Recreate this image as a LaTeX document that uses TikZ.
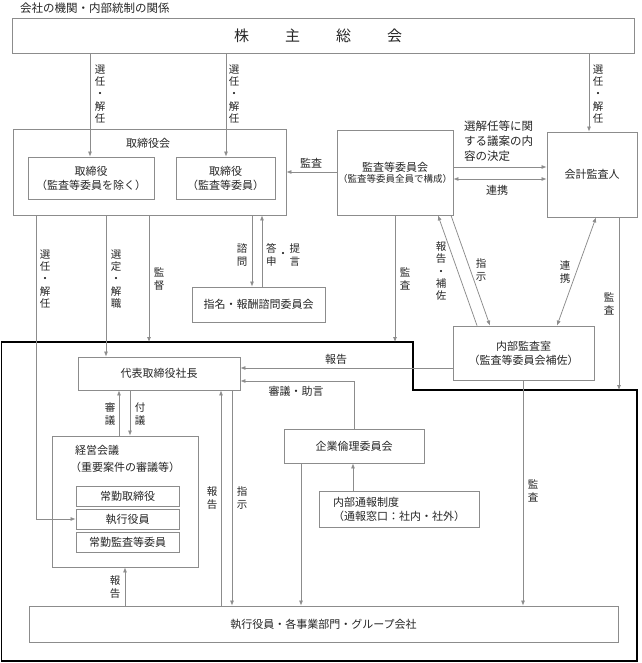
\documentclass[tikz,border=0pt]{standalone}
\usepackage{fontspec}
\setmainfont{Noto Sans CJK JP}
\usetikzlibrary{arrows.meta}
\definecolor{lngray}{gray}{0.55}
\definecolor{txt}{gray}{0.15}
\begin{document}
\begin{tikzpicture}[x=1pt,y=-1pt,
  box/.style={draw=lngray, line width=0.8pt, fill=white, inner sep=0pt, text=txt,
              font=\fontsize{11}{14}\selectfont, align=center},
  ln/.style={draw=lngray, line width=0.75pt},
  arr/.style={ln, -{Latex[length=5pt,width=4pt]}},
  darr/.style={ln, {Latex[length=5pt,width=4pt]}-{Latex[length=5pt,width=4pt]}},
  vlab/.style={font=\fontsize{10.5}{12.2}\selectfont, align=center, inner sep=0pt, text=txt},
  hlab/.style={font=\fontsize{11}{14}\selectfont, inner sep=0pt, text=txt},
  frame/.style={draw=black, line width=1.2pt}]
\useasboundingbox (0,0) rectangle (641,663);
\fill[white] (0,0) rectangle (641,663);

% title
\node[hlab, anchor=west, font=\fontsize{11.5}{14}\selectfont] (title) at (20,8) {会社の機関・内部統制の関係};

% thick frame
\draw[frame] (1.5,342) -- (413,342) -- (413,390) -- (637,390) -- (637,661) -- (1.5,661) -- cycle;

% boxes
\node[box, minimum width=622, minimum height=35, font=\fontsize{15}{18}\selectfont] (soukai) at (323,35.5)
  {株\hspace{36pt}主\hspace{36pt}総\hspace{36pt}会\hspace{10pt}};
\node[box, minimum width=273, minimum height=86] (torikai) at (149.5,172) {};
\node[hlab] (torikailab) at (148,143) {取締役会};
\node[box, minimum width=126, minimum height=42] (tori1) at (91,178) {取締役\\（監査等委員を除く）};
\node[box, minimum width=99, minimum height=42] (tori2) at (225.5,178) {取締役\\（監査等委員）};
\node[box, minimum width=116, minimum height=85] (kansaiin) at (395,172.5)
  {監査等委員会\\[-3pt]{\fontsize{9.5}{11}\selectfont （監査等委員全員で構成）}};
\node[box, minimum width=90, minimum height=85] (kaikei) at (592,174.5) {会計監査人};
\node[box, minimum width=133, minimum height=35] (shimei) at (258.5,304.5) {指名・報酬諮問委員会};
\node[box, minimum width=141, minimum height=54] (naibu) at (523.5,353) {内部監査室\\（監査等委員会補佐）};
\node[box, minimum width=162, minimum height=33] (daihyo) at (159,373.5) {代表取締役社長};
\node[box, minimum width=146, minimum height=131] (keiei) at (125,501.5) {};
\node[hlab, anchor=north west, align=left, font=\fontsize{11}{17}\selectfont] (keieilab) at (75,445)
  {経営会議\\\hspace*{-5pt}（重要案件の審議等）};
\node[box, minimum width=103, minimum height=20] (k1) at (127.5,496) {常勤取締役};
\node[box, minimum width=103, minimum height=20] (k2) at (127.5,519) {執行役員};
\node[box, minimum width=103, minimum height=20] (k3) at (127.5,542) {常勤監査等委員};
\node[box, minimum width=140, minimum height=34] (kigyo) at (354,446) {企業倫理委員会};
\node[box, minimum width=160, minimum height=36, align=left] (tsuho) at (399,509)
  {内部通報制度\hspace{5em}\\（通報窓口：社内・社外）};
\node[box, minimum width=589, minimum height=36] (bottom) at (323.5,624) {執行役員・各事業部門・グループ会社};

% frame anchor points
\coordinate (fr1) at (149,342);
\coordinate (fr2) at (395,342);
\coordinate (fr3) at (619,390);

% connectors from 株主総会
\draw[arr] (soukai.south -| 90,0) -- (tori1.north -| 90,0);
\node[vlab] (l1) at (100,94) {選\\任\\・\\解\\任};
\draw[arr] (soukai.south -| 226,0) -- (tori2.north -| 226,0);
\node[vlab] (l2) at (234,94) {選\\任\\・\\解\\任};
\draw[arr] (soukai.south -| 589,0) -- (kaikei.north -| 589,0);
\node[vlab] (l3) at (598,94) {選\\任\\・\\解\\任};

% 監査等委員会 connections
\draw[arr] (kansaiin.west |- 0,172) -- (torikai.east |- 0,172);
\node[hlab] (l4) at (311,163) {監査};
\draw[arr] (kansaiin.east |- 0,167) -- (kaikei.west |- 0,167);
\draw[darr] (kansaiin.east |- 0,179) -- (kaikei.west |- 0,179);
\node[hlab, anchor=north west, align=left, font=\fontsize{11.5}{15}\selectfont] (l5) at (464,121)
  {選解任等に関\\する議案の内\\容の決定};
\node[hlab] (l6) at (497,190) {連携};

% from 取締役会 down
\draw[arr] (torikai.south -| 36,0) -- (36,519) -- (k2.west);
\node[vlab] (l7) at (45,279) {選\\任\\・\\解\\任};
\draw[arr] (torikai.south -| 106,0) -- (daihyo.north -| 106,0);
\node[vlab] (l8) at (116,279) {選\\定\\・\\解\\職};
\draw[arr] (torikai.south -| 149,0) -- (fr1);
\node[vlab] (l9) at (159,279) {監\\督};
\draw[arr] (torikai.south -| 252,0) -- (shimei.north -| 252,0);
\node[vlab] (l10) at (242,255) {諮\\問};
\draw[arr] (shimei.north -| 262,0) -- (torikai.south -| 262,0);
\node[vlab] (l11) at (283,255) {\parbox[c]{11pt}{\centering 答\\申}\hspace{1pt}・\hspace{1pt}\parbox[c]{11pt}{\centering 提\\言}};

% 監査等委員会 down
\draw[arr] (kansaiin.south -| 395,0) -- (fr2);
\node[vlab] (l12) at (405,279) {監\\査};
\draw[arr] (naibu.north -| 477,0) -- (kansaiin.south -| 438,0);
\node[vlab] (l13) at (441,271) {報\\告\\・\\補\\佐};
\draw[arr] (kansaiin.south -| 451,0) -- (naibu.north -| 490,0);
\node[vlab] (l14) at (481,270) {指\\示};
\draw[darr] (kaikei.south -| 596,0) -- (naibu.north -| 557,0);
\node[vlab] (l15) at (565,272) {連\\携};
\draw[arr] (kaikei.south -| 619,0) -- (fr3);
\node[vlab] (l16) at (609,304) {監\\査};

% 内部監査室
\draw[arr] (naibu.west |- 0,368) -- (daihyo.east |- 0,368);
\node[hlab] (l17) at (336,359) {報告};
\draw[arr] (naibu.south -| 523,0) -- (bottom.north -| 523,0);
\node[vlab] (l18) at (533,491) {監\\査};

% 企業倫理委員会
\draw[arr] (kigyo.north -| 354,0) -- (354,381) -- (daihyo.east |- 0,381);
\node[hlab] (l19) at (296,391) {審議・助言};
\draw[arr] (kigyo.south -| 301,0) -- (bottom.north -| 301,0);
\draw[arr] (tsuho.north -| 353,0) -- (kigyo.south -| 353,0);

% 代表取締役社長 - 経営会議
\draw[arr] (keiei.north -| 119,0) -- (daihyo.south -| 119,0);
\node[vlab] (l20) at (110,414) {審\\議};
\draw[arr] (daihyo.south -| 130,0) -- (keiei.north -| 130,0);
\node[vlab] (l21) at (140,414) {付\\議};

% bottom connections
\draw[arr] (bottom.north -| 125,0) -- (keiei.south -| 125,0);
\node[vlab] (l22) at (115,587) {報\\告};
\draw[arr] (bottom.north -| 221,0) -- (daihyo.south -| 221,0);
\node[vlab] (l23) at (212,498) {報\\告};
\draw[arr] (daihyo.south -| 232,0) -- (bottom.north -| 232,0);
\node[vlab] (l24) at (242,498) {指\\示};
\end{tikzpicture}
\end{document}
